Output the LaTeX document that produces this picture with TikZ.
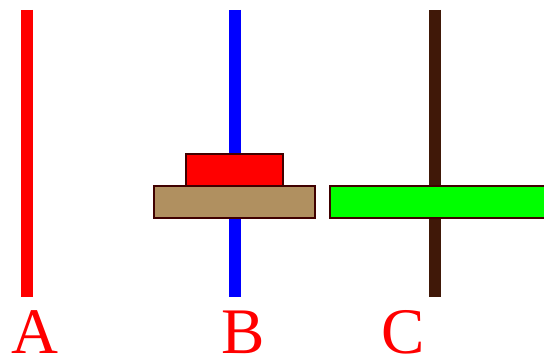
\documentclass[tikz,border=0pt]{standalone}
\usepackage{fontspec}
\setmainfont{Liberation Serif}
\usepackage{xcolor}
\usetikzlibrary{positioning}
\definecolor{polebrown}{HTML}{401808}
\definecolor{disktan}{HTML}{B09060}
\definecolor{diskedge}{HTML}{400000}

\begin{document}
\begin{tikzpicture}[x=1pt, y=-1pt,
    disk/.style={draw=diskedge, line width=1.6pt},
    pole/.style={line width=12pt},
    peglabel/.style={anchor=base, text=red, inner sep=0pt, font=\fontsize{65}{65}\selectfont}]
    \useasboundingbox (0,0) rectangle (544,358);
    
    % Pioli
    \coordinate (topA) at (26.5, 10);
    \coordinate (botA) at (26.5, 297);
    \coordinate (topB) at (234.5, 10);
    \coordinate (botB) at (234.5, 297);
    \coordinate (topC) at (434.5, 10);
    \coordinate (botC) at (434.5, 297);
    \draw[pole, red] (topA) -- (botA);
    \draw[pole, blue] (topB) -- (botB);
    \draw[pole, polebrown] (topC) -- (botC);
    
    % Dischi
    \filldraw[disk, fill=red] (186, 154) rectangle (283, 186);
    \filldraw[disk, fill=disktan] (154, 186) rectangle (315, 218);
    % il disco verde esce dal bordo destro
    \fill[green] (330, 186) rectangle (544, 218);
    \draw[disk] (544, 186) -- (330, 186) -- (330, 218) -- (544, 218);
    
    % Etichette
    \node[peglabel] (labA) at (34.5, 353) {A};
    \node[peglabel] (labB) at (243, 353) {B};
    \node[peglabel] (labC) at (403, 353) {C};
\end{tikzpicture}
\end{document}
